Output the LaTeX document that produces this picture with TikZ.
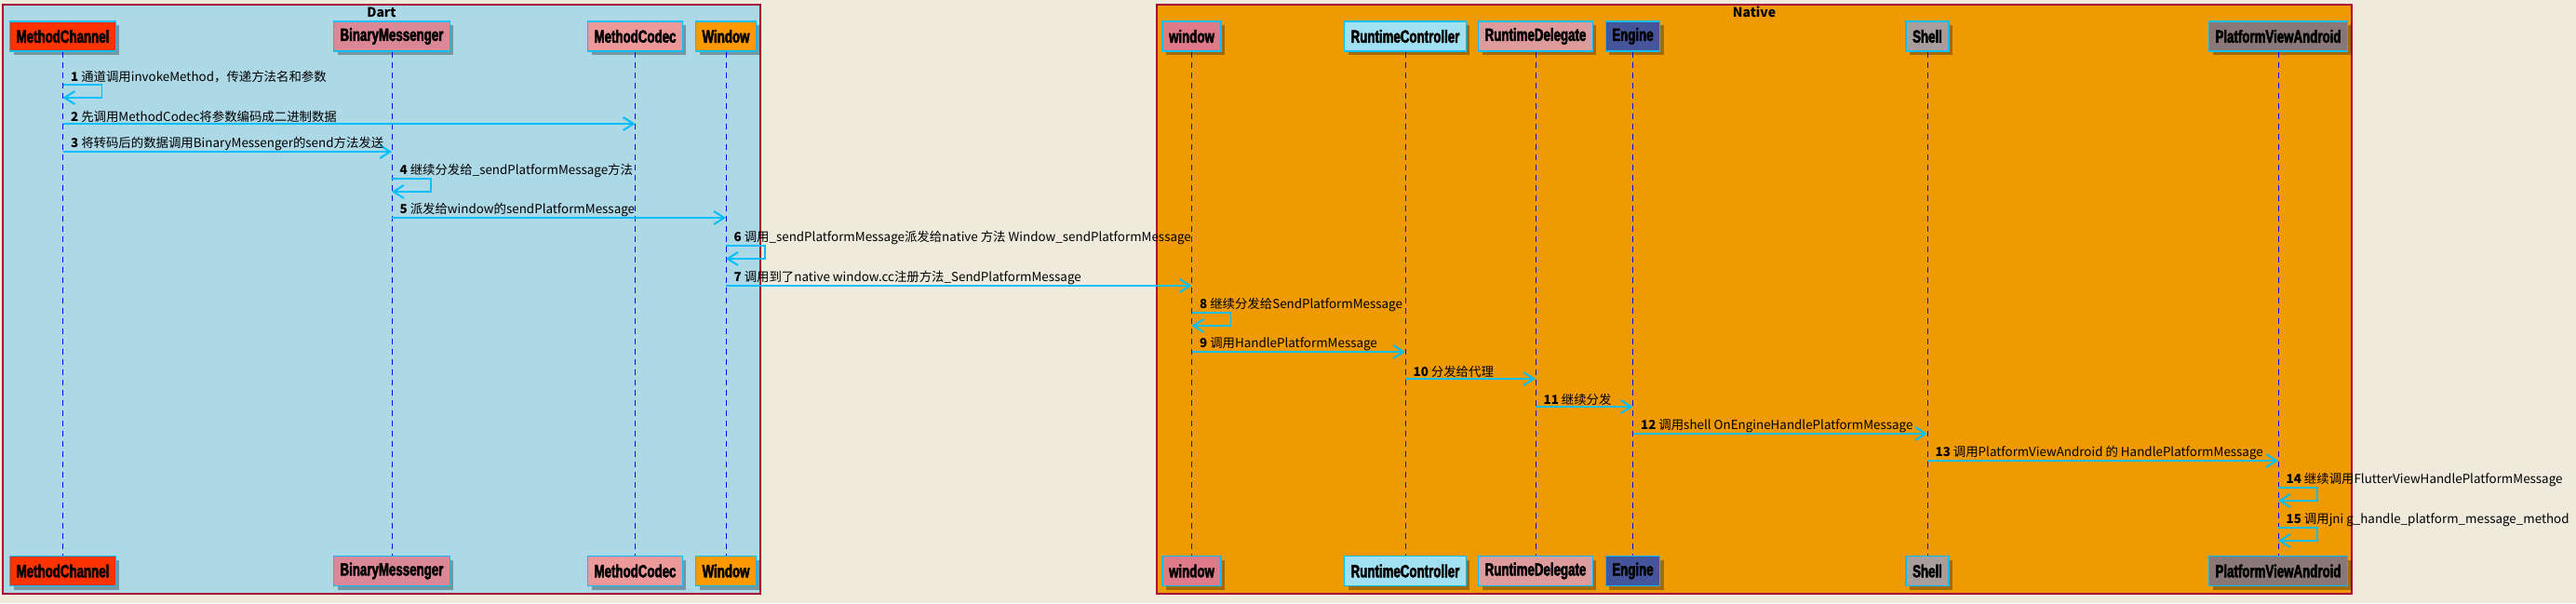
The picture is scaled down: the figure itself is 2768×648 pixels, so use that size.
\documentclass[tikz,border=0pt]{standalone}
\usepackage{fontspec}
\setmainfont{Noto Sans CJK SC}
\newfontfamily\partfont[FakeStretch=0.7,FakeBold=2.5]{Liberation Sans Bold}
\usetikzlibrary{arrows.meta}
\usetikzlibrary{shadows}

\definecolor{cPage}{HTML}{EEEADC}
\definecolor{cDart}{HTML}{ADD8E6}
\definecolor{cNative}{HTML}{EE9A00}
\definecolor{cFrame}{HTML}{A80036}
\definecolor{cEdge}{HTML}{00BFFF}
\definecolor{cArrow}{HTML}{00BFFF}
\definecolor{cMC}{HTML}{FF3300}
\definecolor{cBM}{HTML}{DB8795}
\definecolor{cCodec}{HTML}{EE9999}
\definecolor{cWin}{HTML}{FF9900}
\definecolor{cNwin}{HTML}{DE7A8A}
\definecolor{cRC}{HTML}{A0E0F2}
\definecolor{cRD}{HTML}{DE9B9B}
\definecolor{cEng}{HTML}{45559B}
\definecolor{cShell}{HTML}{A89E9E}
\definecolor{cPVA}{HTML}{8A7878}

\newcommand{\mnum}[1]{\textbf{#1}~}

\begin{document}
\begin{tikzpicture}[x=0.5pt,y=-0.5pt,
    part/.style={draw=cEdge, line width=0.7pt, fill=#1, minimum height=16pt,
                 inner xsep=3.5pt, font=\partfont\fontsize{9.5pt}{10pt}\selectfont,
                 drop shadow={shadow xshift=2pt, shadow yshift=-2pt, fill=black, opacity=0.3}},
    life/.style={draw=blue, dash pattern=on 3pt off 2.5pt, line width=0.5pt},
    msg/.style={draw=cArrow, line width=0.6pt,
                -{Straight Barb[length=5.5pt,width=7pt,line width=1pt]}},
    lbl/.style={font=\fontsize{6.7pt}{8pt}\selectfont, inner sep=0.5pt,
                anchor=south west, xshift=3.5pt},
    frame/.style={draw=cFrame, line width=0.6pt},
    title/.style={font=\bfseries\fontsize{7pt}{8pt}\selectfont}]

    \fill[cPage] (0,0) rectangle (2768,648);
    \draw[frame, fill=cDart] (3,5) rectangle (817,638);
    \draw[frame, fill=cNative] (1243,5) rectangle (2527,638);
    \node[title] (dart) at (410,13) {Dart};
    \node[title] (native) at (1885,13) {Native};

    \foreach \n/\x/\c/\t in {mc/67.5/cMC/MethodChannel, bm/421/cBM/BinaryMessenger,
        codec/682.5/cCodec/MethodCodec, win/780/cWin/Window, nwin/1280.5/cNwin/window,
        rc/1510/cRC/RuntimeController, rd/1650/cRD/RuntimeDelegate, eng/1754.5/cEng/Engine,
        shell/2071/cShell/Shell, pva/2448/cPVA/PlatformViewAndroid} {
      \node[part=\c] (\n) at (\x,39) {\t};
      \node[part=\c] (\n-b) at (\x,613.5) {\t};
      \draw[life] (\n) -- (\n-b);
    }

    % Dart side
    \draw[msg] (mc |- 0,91) node[lbl] {\mnum{1}通道调用invokeMethod，传递方法名和参数}
        -- ++(42,0) -- ++(0,14) -- ++(-42,0);
    \draw[msg] (mc |- 0,133) node[lbl] {\mnum{2}先调用MethodCodec将参数编码成二进制数据} -- (codec |- 0,133);
    \draw[msg] (mc |- 0,163) node[lbl] {\mnum{3}将转码后的数据调用BinaryMessenger的send方法发送} -- (bm |- 0,163);
    \draw[msg] (bm |- 0,192) node[lbl] {\mnum{4}继续分发给\_sendPlatformMessage方法}
        -- ++(42,0) -- ++(0,14) -- ++(-42,0);
    \draw[msg] (bm |- 0,234) node[lbl] {\mnum{5}派发给window的sendPlatformMessage} -- (win |- 0,234);
    \draw[msg] (win |- 0,264) node[lbl] {\mnum{6}调用\_sendPlatformMessage派发给native 方法 Window\_sendPlatformMessage}
        -- ++(42,0) -- ++(0,14) -- ++(-42,0);
    \draw[msg] (win |- 0,307) node[lbl] {\mnum{7}调用到了native window.cc注册方法\_SendPlatformMessage} -- (nwin |- 0,307);

    % Native side
    \draw[msg] (nwin |- 0,336) node[lbl] {\mnum{8}继续分发给SendPlatformMessage}
        -- ++(42,0) -- ++(0,14) -- ++(-42,0);
    \draw[msg] (nwin |- 0,378) node[lbl] {\mnum{9}调用HandlePlatformMessage} -- (rc |- 0,378);
    \draw[msg] (rc |- 0,407) node[lbl] {\mnum{10}分发给代理} -- (rd |- 0,407);
    \draw[msg] (rd |- 0,437) node[lbl] {\mnum{11}继续分发} -- (eng |- 0,437);
    \draw[msg] (eng |- 0,466) node[lbl] {\mnum{12}调用shell OnEngineHandlePlatformMessage} -- (shell |- 0,466);
    \draw[msg] (shell |- 0,495) node[lbl] {\mnum{13}调用PlatformViewAndroid 的 HandlePlatformMessage} -- (pva |- 0,495);
    \draw[msg] (pva |- 0,524) node[lbl] {\mnum{14}继续调用FlutterViewHandlePlatformMessage}
        -- ++(42,0) -- ++(0,14) -- ++(-42,0);
    \draw[msg] (pva |- 0,567) node[lbl] {\mnum{15}调用jni g\_handle\_platform\_message\_method}
        -- ++(42,0) -- ++(0,14) -- ++(-42,0);
\end{tikzpicture}
\end{document}
